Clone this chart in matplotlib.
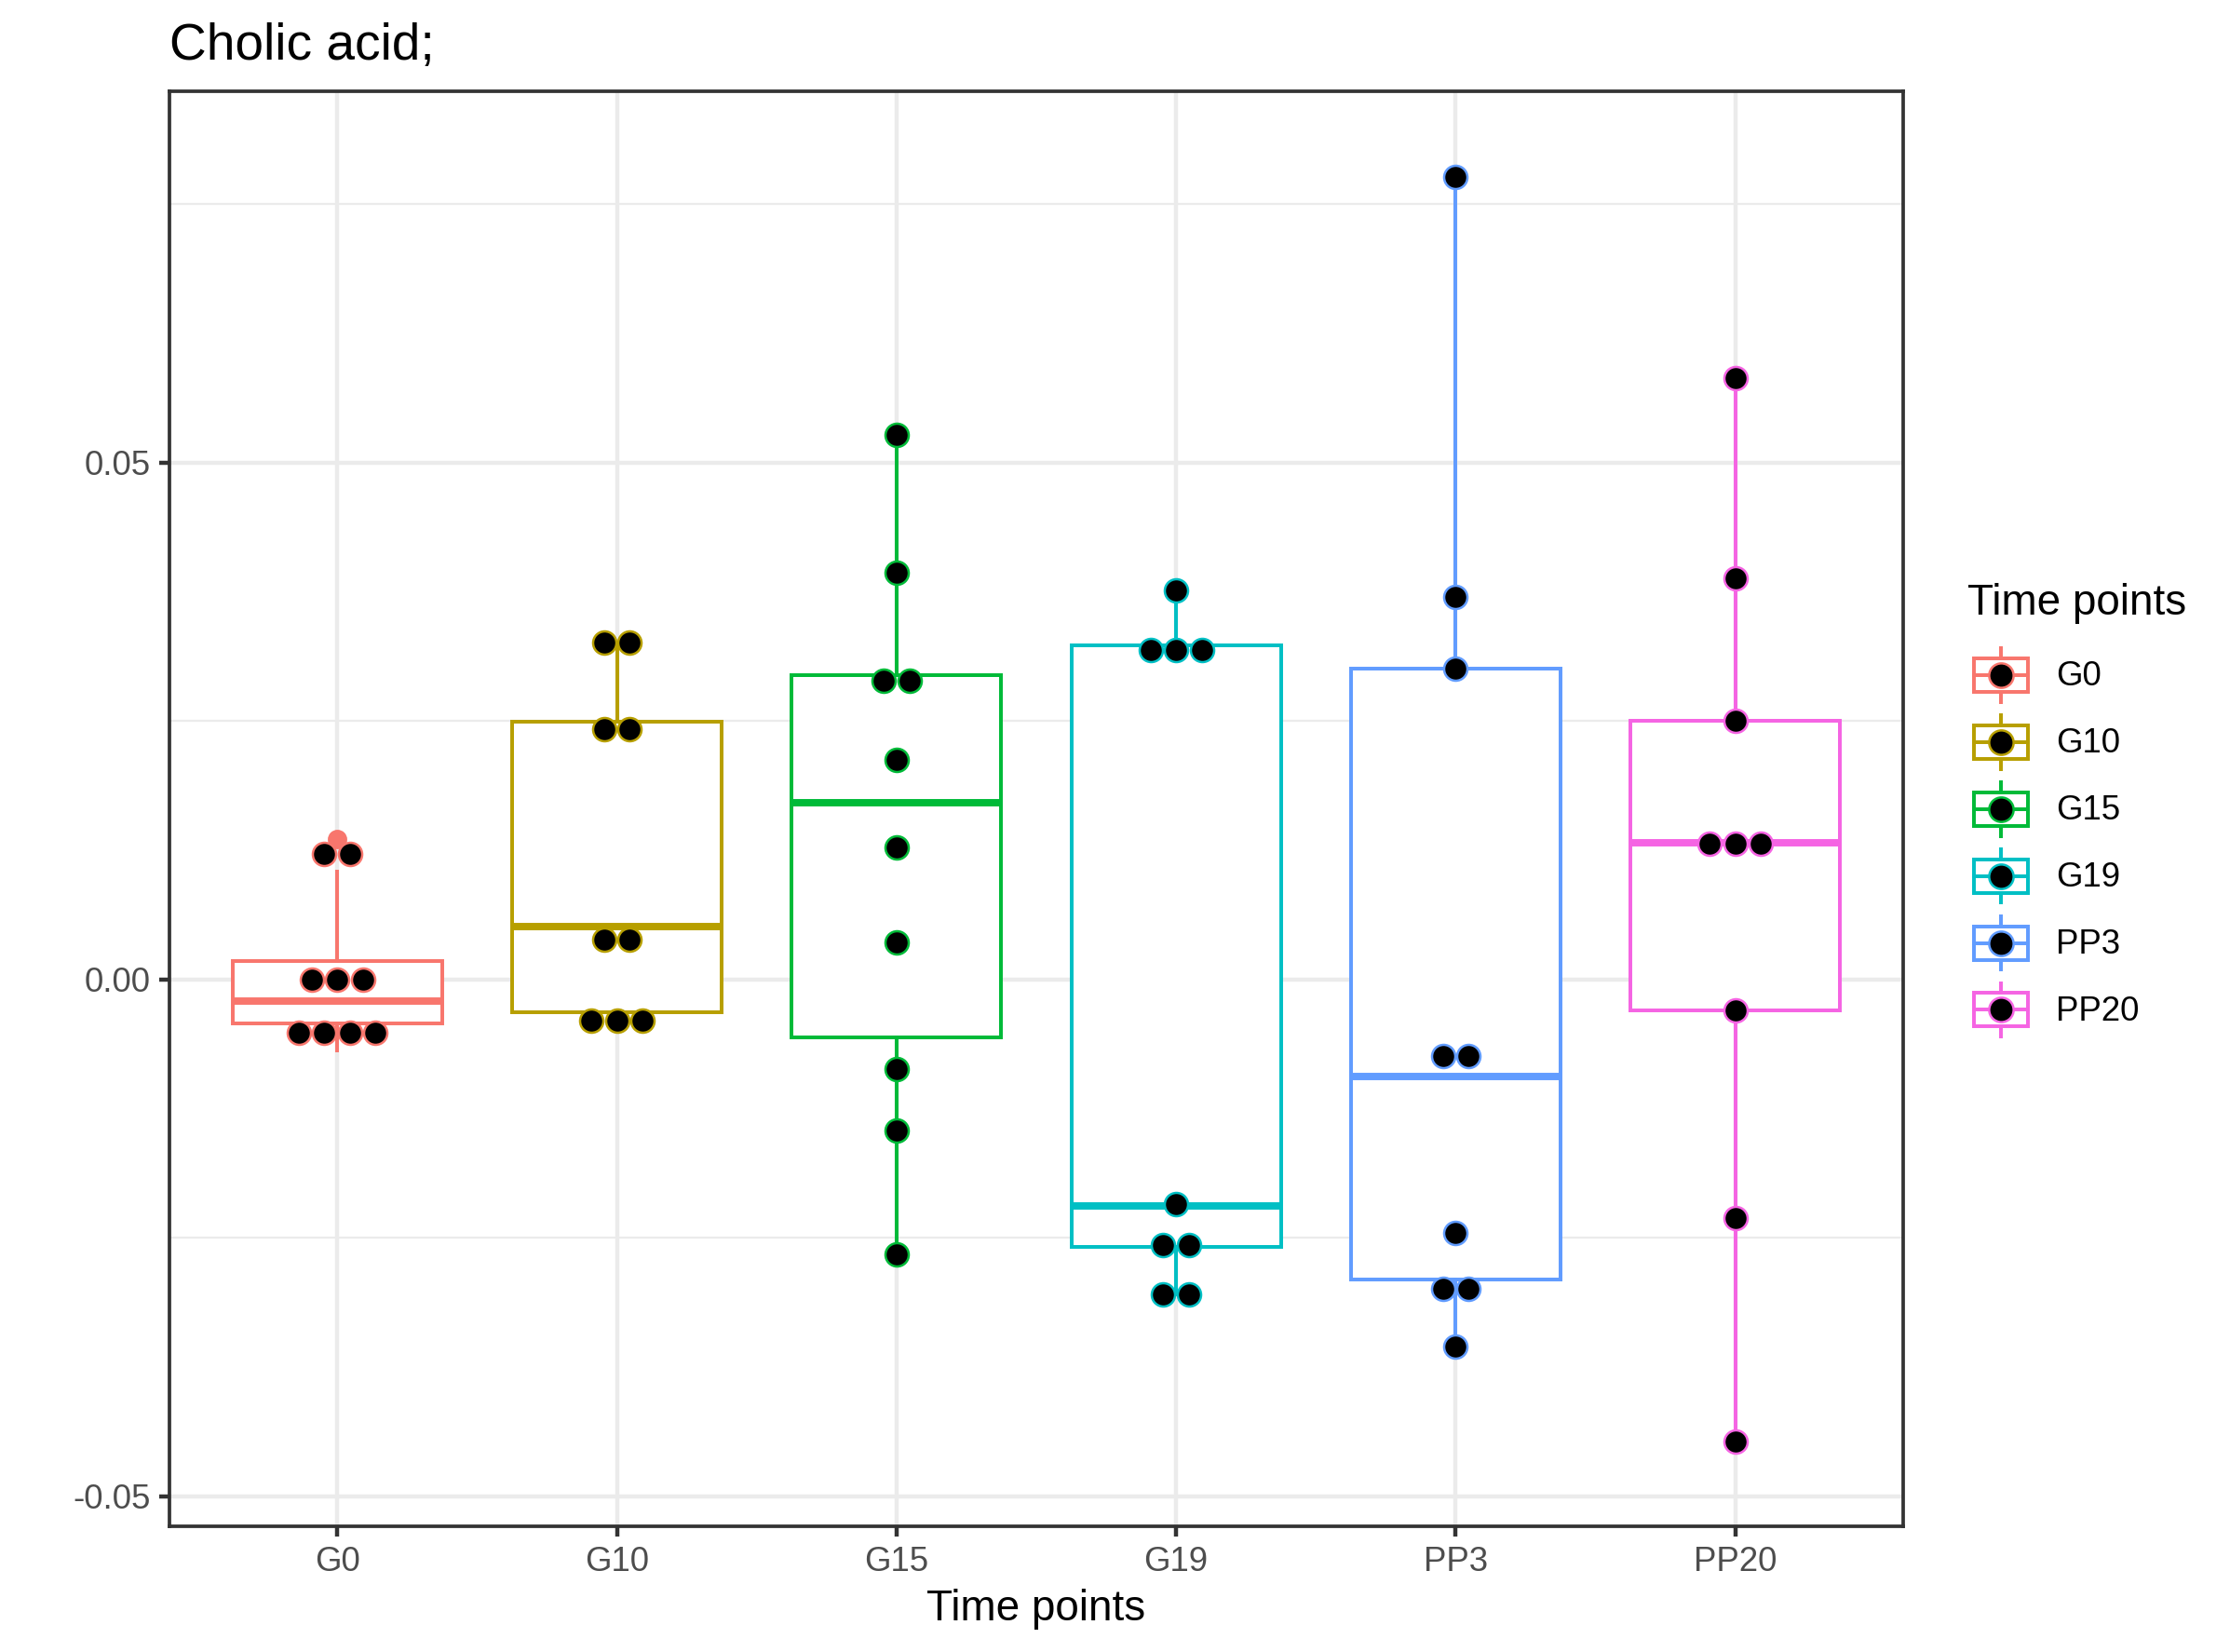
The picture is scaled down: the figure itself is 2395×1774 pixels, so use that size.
import matplotlib
matplotlib.use("Agg")
import matplotlib.pyplot as plt
from matplotlib.patches import Patch, Rectangle
from matplotlib.lines import Line2D
from matplotlib.legend_handler import HandlerBase

plt.rcParams['font.family'] = ['Liberation Sans', 'DejaVu Sans']

groups = ["G0", "G10", "G15", "G19", "PP3", "PP20"]
colors = ["#F8766D", "#B79F00", "#00BA38", "#00BFC4", "#619CFF", "#F564E3"]

# box statistics
q1 = [-0.0043, -0.0032, -0.0056, -0.0259, -0.0290, -0.0030]
med = [-0.0021, 0.0051, 0.0171, -0.0219, -0.0094, 0.0132]
q3 = [0.0018, 0.0249, 0.0294, 0.0323, 0.0301, 0.0250]
whislo = [-0.0069, -0.0040, -0.0266, -0.0305, -0.0355, -0.0447]
whishi = [0.0104, 0.0326, 0.0527, 0.0376, 0.0776, 0.0582]
fliers = [[0.0136], [], [], [], [], []]

# dotplot bins: (value, number of stacked dots)
dots_g0 = [(0.0121, 2), (0.0, 3), (-0.0052, 4)]
dots_g10 = [(0.0326, 2), (0.0242, 2), (0.00385, 2), (-0.0040, 3)]
dots_g15 = [(0.0527, 1), (0.0393, 1), (0.0289, 2), (0.0212, 1), (0.0128, 1),
            (0.0036, 1), (-0.0087, 1), (-0.0146, 1), (-0.0266, 1)]
dots_g19 = [(0.0376, 1), (0.0319, 3), (-0.0217, 1), (-0.0257, 2), (-0.0305, 2)]
dots_pp3 = [(0.0776, 1), (0.0370, 1), (0.0301, 1), (-0.0074, 2), (-0.0245, 1),
            (-0.0299, 2), (-0.0355, 1)]
dots_pp20 = [(0.0582, 1), (0.0388, 1), (0.0250, 1), (0.0131, 3), (-0.0030, 1),
             (-0.0231, 1), (-0.0447, 1)]
dots = [dots_g0, dots_g10, dots_g15, dots_g19, dots_pp3, dots_pp20]

W, H, DPI = 2395, 1774, 300
fig = plt.figure(figsize=(W / DPI, H / DPI), dpi=DPI)
ax = fig.add_axes([182 / W, 1 - 1639 / H, (2044 - 182) / W, (1639 - 98) / H])

box_lw = 0.95
for i in range(6):
    st = dict(q1=q1[i], med=med[i], q3=q3[i], whislo=whislo[i], whishi=whishi[i], fliers=fliers[i])
    c = colors[i]
    ax.bxp([st], positions=[i + 1], widths=0.75, showcaps=False, patch_artist=True,
           manage_ticks=False,
           boxprops=dict(facecolor='white', edgecolor=c, lw=box_lw),
           whiskerprops=dict(color=c, lw=box_lw),
           medianprops=dict(color=c, lw=2 * box_lw, solid_capstyle='butt'),
           flierprops=dict(marker='o', markerfacecolor=c, markeredgecolor=c, markersize=4),
           zorder=2)

ax.set_xlim(0.4, 6.6)
ax.set_ylim(-0.0529, 0.0859)

# grid like theme_bw
ax.set_yticks([-0.05, 0.0, 0.05])
ax.set_yticklabels(["-0.05", "0.00", "0.05"])
ax.set_yticks([-0.025, 0.025, 0.075], minor=True)
ax.set_xticks(range(1, 7))
ax.set_xticklabels(groups)
ax.grid(True, which='major', color='#EBEBEB', lw=1.07, zorder=0)
ax.grid(True, which='minor', axis='y', color='#EBEBEB', lw=0.53, zorder=0)
ax.set_axisbelow(True)
ax.tick_params(which='major', length=2.75, width=1.07, color='#333333',
               labelcolor='#4D4D4D', labelsize=8.8, pad=2.2)
ax.tick_params(which='minor', length=0)
for s in ax.spines.values():
    s.set_color('#333333')
    s.set_linewidth(0.9)

# dot size and horizontal stacking step
ms, mew = 6.0, 0.6
step_px = (ms + mew) * DPI / 72
px_per_unit = ax.transData.transform((1, 0))[0] - ax.transData.transform((0, 0))[0]
step = step_px / px_per_unit
for i in range(6):
    xs, ys = [], []
    for v, n in dots[i]:
        for k in range(n):
            xs.append(i + 1 + (k - (n - 1) / 2) * step)
            ys.append(v)
    ax.plot(xs, ys, 'o', ms=ms, mfc='black', mec=colors[i], mew=mew, ls='none', zorder=4)

fig.text(182 / W, 1 - 64 / H, "Cholic acid;", fontsize=13.2, ha='left', va='baseline')
fig.text((182 + 2044) / 2 / W, 1 - 1740 / H, "Time points", fontsize=11, ha='center', va='baseline')

KEY = 17.28  # legend key size in points


class BoxKey(HandlerBase):
    def create_artists(self, legend, orig_handle, xdescent, ydescent, width, height, fontsize, trans):
        c = orig_handle.get_edgecolor()
        cx, cy = -xdescent + width / 2, -ydescent + height / 2
        k = KEY
        arts = [
            Line2D([cx, cx], [cy - 0.4 * k, cy + 0.4 * k], color=c, lw=box_lw, transform=trans),
            Rectangle((cx - 0.4 * k, cy - 0.25 * k), 0.8 * k, 0.5 * k, facecolor='white',
                      edgecolor=c, lw=box_lw, transform=trans),
            Line2D([cx - 0.4 * k, cx + 0.4 * k], [cy, cy], color=c, lw=box_lw, transform=trans),
            Line2D([cx], [cy], marker='o', ms=6.3, mfc='black', mec=c, mew=mew, ls='none', transform=trans),
        ]
        return arts


handles = [Patch(edgecolor=c, facecolor='white') for c in colors]
fig.legend(handles, groups, handler_map={Patch: BoxKey()}, loc='upper left',
           bbox_to_anchor=(2113 / W, 1 - 689 / H), frameon=False, borderpad=0,
           borderaxespad=0, labelspacing=0, handlelength=KEY / 8.8,
           handleheight=2.64, handletextpad=0.625, fontsize=8.8)
fig.text(2113 / W, 1 - 648 / H, "Time points", fontsize=11, ha='left', va='center')

fig.savefig("out.png", dpi=DPI)
